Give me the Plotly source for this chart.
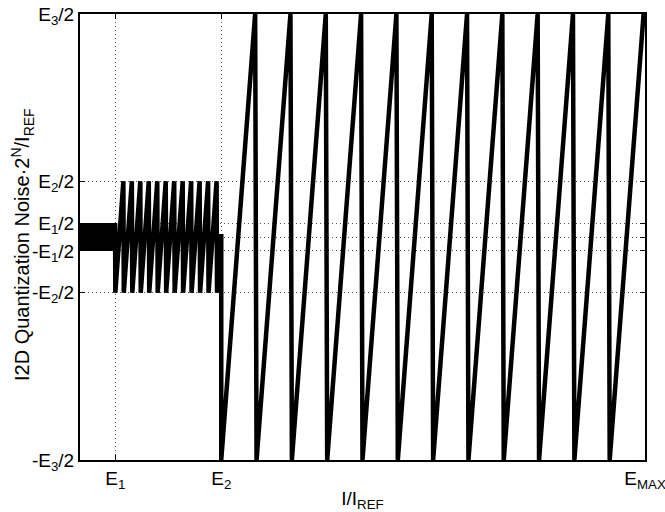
import plotly.graph_objects as go

# Region boundaries along x (in units where E1 = 1): 0 -> E1 -> E2 -> EMAX
region_edges = [0, 1, 4, 16]
# Half-range of the quantization noise in each region (E1/2, E2/2, E3/2)
half_ranges = [0.5, 2, 8]
# Number of sawtooth teeth in each region
teeth_counts = [16, 12.5, 12]
# Fraction of each tooth period taken by the falling edge
drop_fraction = [0.1, 0.05, 0.04]

x_tick_vals = [1, 4, 16]
x_tick_text = ["E<sub>1</sub>", "E<sub>2</sub>", "E<sub>MAX</sub>"]
y_tick_vals = [-8, -2, -0.5, 0, 0.5, 2, 8]
y_tick_text = ["-E<sub>3</sub>/2", "-E<sub>2</sub>/2", "-E<sub>1</sub>/2", "",
               "E<sub>1</sub>/2", "E<sub>2</sub>/2", "E<sub>3</sub>/2"]

# Build the sawtooth vertices from the region parameters
xs, ys = [], []
for i in range(len(half_ranges)):
    a, b = region_edges[i], region_edges[i + 1]
    A = half_ranges[i]
    P = (b - a) / teeth_counts[i]
    rise = P * (1 - drop_fraction[i])
    k = 0
    while True:
        x0 = a + k * P
        if x0 >= b - 1e-9:
            break
        xs.append(x0)
        ys.append(-A)
        x1 = x0 + rise
        if x1 <= b + 1e-9:
            xs.append(x1)
            ys.append(A)
        else:
            xs.append(b)
            ys.append(-A + 2 * A * (b - x0) / rise)
            break
        k += 1

FONT = "Liberation Sans, Arial, Helvetica, sans-serif"
FS = 19

fig = go.Figure()
fig.add_trace(go.Scatter(
    x=xs, y=ys, mode="lines",
    line=dict(color="black", width=4.5, simplify=False),
    showlegend=False, hoverinfo="skip",
))

axis_common = dict(
    showline=True, linewidth=2, linecolor="black", mirror="ticks",
    ticks="inside", ticklen=5, tickwidth=1, tickcolor="black",
    showgrid=True, gridcolor="#555555", gridwidth=1, griddash="1px,3px",
    zeroline=False, automargin=False, ticklabeloverflow="allow",
    tickfont=dict(family=FONT, size=FS, color="black"),
)

fig.update_xaxes(
    range=[0, 16], tickmode="array", tickvals=x_tick_vals, ticktext=x_tick_text,
    title=dict(text="I/I<sub>REF</sub>", font=dict(family=FONT, size=FS, color="black"),
               standoff=2),
    **axis_common,
)
fig.update_yaxes(
    range=[-8, 8], tickmode="array", tickvals=y_tick_vals, ticktext=y_tick_text,
    **axis_common,
)

fig.add_annotation(
    text="I2D Quantization Noise·2<sup>N</sup>/I<sub>REF</sub>",
    xref="paper", yref="paper", x=0, y=0.482, xanchor="center", yanchor="middle",
    xshift=-58, textangle=-90, showarrow=False,
    font=dict(family=FONT, size=20, color="black"),
)

fig.update_layout(
    width=665, height=512,
    margin=dict(l=80, r=20, t=14, b=52),
    paper_bgcolor="white", plot_bgcolor="white",
    font=dict(family=FONT, size=FS, color="black"),
)

fig.write_html(
    "out.html",
    config={"displayModeBar": False},
    post_script="document.body.style.margin='0';document.body.style.padding='0';",
)
